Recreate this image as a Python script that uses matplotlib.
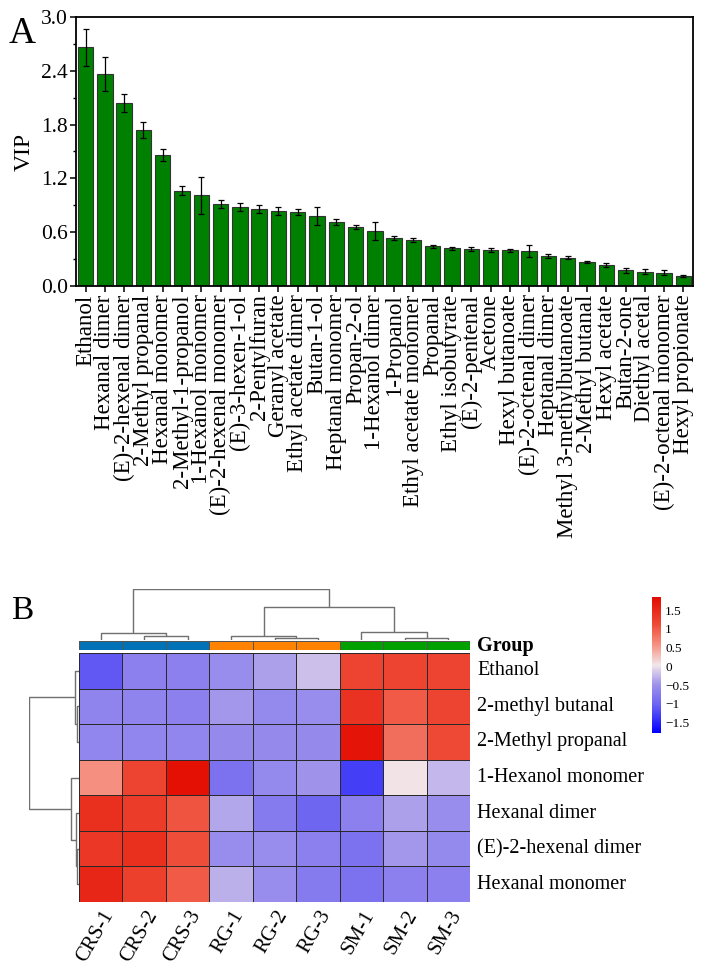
import numpy as np
import matplotlib
matplotlib.use("Agg")
import matplotlib.pyplot as plt
from matplotlib.colors import LinearSegmentedColormap, ListedColormap
from matplotlib.transforms import offset_copy

plt.rcParams['font.family'] = ['Liberation Serif', 'DejaVu Serif']

# ---- panel A data ----
vip_names = ["Ethanol", "Hexanal dimer", "(E)-2-hexenal dimer", "2-Methyl propanal",
             "Hexanal monomer", "2-Methyl-1-propanol", "1-Hexanol monomer",
             "(E)-2-hexenal monomer", "(E)-3-hexen-1-ol", "2-Pentylfuran",
             "Geranyl acetate", "Ethyl acetate dimer", "Butan-1-ol", "Heptanal monomer",
             "Propan-2-ol", "1-Hexanol dimer", "1-Propanol", "Ethyl acetate monomer",
             "Propanal", "Ethyl isobutyrate", "(E)-2-pentenal", "Acetone",
             "Hexyl butanoate", "(E)-2-octenal dimer", "Heptanal dimer",
             "Methyl 3-methylbutanoate", "2-Methyl butanal", "Hexyl acetate",
             "Butan-2-one", "Diethyl acetal", "(E)-2-octenal monomer", "Hexyl propionate"]
vip_values = [2.66, 2.36, 2.04, 1.74, 1.46, 1.06, 1.01, 0.914, 0.877, 0.858,
              0.836, 0.829, 0.78, 0.713, 0.658, 0.61, 0.532, 0.513, 0.442, 0.42,
              0.412, 0.401, 0.40, 0.387, 0.334, 0.316, 0.271, 0.23, 0.175, 0.16,
              0.148, 0.108]
vip_err = [0.21, 0.19, 0.10, 0.085, 0.07, 0.05, 0.21, 0.045, 0.045, 0.04,
           0.04, 0.035, 0.10, 0.035, 0.027, 0.10, 0.022, 0.025, 0.02, 0.018,
           0.018, 0.018, 0.018, 0.067, 0.018, 0.014, 0.01, 0.022, 0.026, 0.026,
           0.026, 0.01]

# ---- panel B data ----
heat_rows = ["Ethanol", "2-methyl butanal", "2-Methyl propanal", "1-Hexanol monomer",
             "Hexanal dimer", "(E)-2-hexenal dimer", "Hexanal monomer"]
heat_cols = ["CRS-1", "CRS-2", "CRS-3", "RG-1", "RG-2", "RG-3", "SM-1", "SM-2", "SM-3"]
heat_values = [
    [-1.10, -0.70, -0.70, -0.55, -0.40, -0.20, 1.20, 1.20, 1.20],
    [-0.65, -0.65, -0.70, -0.45, -0.60, -0.55, 1.40, 1.00, 1.20],
    [-0.62, -0.62, -0.62, -0.58, -0.58, -0.58, 1.75, 0.85, 1.15],
    [0.60, 1.20, 1.80, -0.85, -0.60, -0.50, -1.30, 0.05, -0.25],
    [1.45, 1.30, 1.05, -0.35, -0.75, -1.00, -0.70, -0.40, -0.55],
    [1.35, 1.45, 1.10, -0.55, -0.55, -0.70, -0.85, -0.45, -0.60],
    [1.55, 1.25, 1.00, -0.30, -0.55, -0.75, -0.85, -0.70, -0.70],
]
groups = ["CRS", "CRS", "CRS", "RG", "RG", "RG", "SM", "SM", "SM"]
group_colors = {"CRS": "#0072B5", "RG": "#FF8200", "SM": "#00A000"}
# dendrogram merges (a, b, height) scipy-style: index >= n means earlier merge
col_merges = [(1, 2, 4.0), (0, 9, 7.3), (4, 5, 2.3), (3, 11, 4.0),
              (7, 8, 2.3), (6, 13, 8.0), (12, 14, 33.0), (10, 15, 51.0)]
row_merges = [(1, 2, 1.7), (0, 7, 4.3), (5, 6, 1.7), (4, 9, 2.7),
              (3, 10, 8.3), (8, 11, 50.0)]


def draw_dendro(ax, merges, n, vertical=True, color="#707070"):
    pos = {i: float(i) for i in range(n)}
    hgt = {i: 0.0 for i in range(n)}
    for k, (a, b, h) in enumerate(merges):
        xa, xb = pos[a], pos[b]
        xs = [xa, xa, xb, xb]
        ys = [hgt[a], h, h, hgt[b]]
        if vertical:
            ax.plot(xs, ys, color=color, lw=1.0, solid_capstyle="butt")
        else:
            ax.plot(ys, xs, color=color, lw=1.0, solid_capstyle="butt")
        pos[n + k] = (xa + xb) / 2
        hgt[n + k] = h


W, H = 709, 971
fig = plt.figure(figsize=(W / 100, H / 100), dpi=100)


def fax(l, t, r, b):
    return fig.add_axes([l / W, 1 - b / H, (r - l) / W, (b - t) / H])


# ---------- panel A ----------
ax = fax(76, 17, 693, 286)
x = np.arange(len(vip_names))
ax.bar(x, vip_values, width=0.8, color="#008000", edgecolor="#333333", linewidth=0.8,
       yerr=vip_err, capsize=2.5,
       error_kw=dict(elinewidth=0.9, ecolor="black", capthick=0.9))
ax.set_xlim(-0.5, len(vip_names) - 0.5)
ax.set_ylim(0, 3.0)
ax.set_yticks(np.arange(0, 3.01, 0.6))
ax.set_yticks(np.arange(0.3, 3.0, 0.6), minor=True)
ax.set_yticklabels(["%.1f" % v for v in np.arange(0, 3.01, 0.6)], fontsize=15.5)
ax.set_xticks(x)
ax.set_xticklabels(vip_names, rotation=90, fontsize=16.5)
ax.tick_params(axis="both", which="major", direction="out", length=4, width=1.1)
ax.tick_params(axis="y", which="minor", direction="out", length=2.5, width=1.0)
ax.tick_params(axis="x", pad=2)
ax.tick_params(axis="y", pad=2)
for s in ax.spines.values():
    s.set_linewidth(1.3)
ax.set_ylabel("VIP", fontsize=17, labelpad=4)
fig.text(9 / W, 1 - 43 / H, "A", fontsize=27, ha="left", va="baseline")

# ---------- panel B ----------
hm_l, hm_t, hm_r, hm_b = 79, 653, 470, 902
nr, nc = len(heat_rows), len(heat_cols)
cmap = LinearSegmentedColormap.from_list("bwr_ph", [
    (0.0, (0 / 255, 0 / 255, 255 / 255)),
    (0.2, (105 / 255, 96 / 255, 242 / 255)),
    (0.36, (160 / 255, 148 / 255, 235 / 255)),
    (0.5, (242 / 255, 230 / 255, 234 / 255)),
    (0.64, (246 / 255, 150 / 255, 135 / 255)),
    (0.8, (238 / 255, 75 / 255, 55 / 255)),
    (1.0, (226 / 255, 12 / 255, 0 / 255)),
])
vmin, vmax = -1.78, 1.85

axh = fax(hm_l, hm_t, hm_r, hm_b)
mesh = axh.pcolormesh(np.array(heat_values), cmap=cmap, vmin=vmin, vmax=vmax,
                      edgecolors="#2a2a2a", linewidth=0.6)
axh.set_xlim(0, nc)
axh.set_ylim(nr, 0)
axh.set_xticks([])
axh.set_yticks([])
for s in axh.spines.values():
    s.set_visible(False)
lab_tr = offset_copy(axh.transData, fig=fig, x=9, y=-10, units="dots")
for j, name in enumerate(heat_cols):
    axh.text(j + 0.5, nr, name, transform=lab_tr, rotation=60, ha="right", va="center",
             rotation_mode="anchor", fontsize=15)
for i, name in enumerate(heat_rows):
    axh.text(nc + 0.16, i + 0.5, name, fontsize=14.5, ha="left", va="center")

# group annotation bar
axg = fax(hm_l, 641, hm_r, 650)
gnames = list(group_colors.keys())
gidx = np.array([[gnames.index(g) for g in groups]])
axg.pcolormesh(gidx, cmap=ListedColormap([group_colors[g] for g in gnames]),
               vmin=-0.5, vmax=len(gnames) - 0.5, edgecolors="#555555", linewidth=0.5)
axg.set_xlim(0, nc)
axg.set_ylim(0, 1)
axg.set_xticks([])
axg.set_yticks([])
for s in axg.spines.values():
    s.set_visible(False)
axg.text(nc + 0.16, 0.5, "Group", fontsize=14.5, fontweight="bold", ha="left", va="center")

# column dendrogram
axc = fax(hm_l, 589, hm_r, 640)
draw_dendro(axc, col_merges, nc, vertical=True)
axc.set_xlim(-0.5, nc - 0.5)
axc.set_ylim(0, 51.0)
axc.axis("off")

# row dendrogram
axr = fax(29, hm_t, hm_l, hm_b)
draw_dendro(axr, row_merges, nr, vertical=False)
axr.set_ylim(nr - 0.5, -0.5)
axr.set_xlim(50.0, 0)
axr.axis("off")

# colorbar
axcb = fax(652, 597, 661, 733)
cb = fig.colorbar(mesh, cax=axcb)
cb.outline.set_visible(False)
cb_ticks = [-1.5, -1, -0.5, 0, 0.5, 1, 1.5]
cb.set_ticks(cb_ticks)
cb.set_ticklabels([("%g" % t).replace("-", "\u2212") for t in cb_ticks])
axcb.tick_params(length=0, labelsize=9.5, pad=3)

fig.text(11 / W, 1 - 619 / H, "B", fontsize=24, ha="left", va="baseline")

fig.savefig("out.png", dpi=100)
